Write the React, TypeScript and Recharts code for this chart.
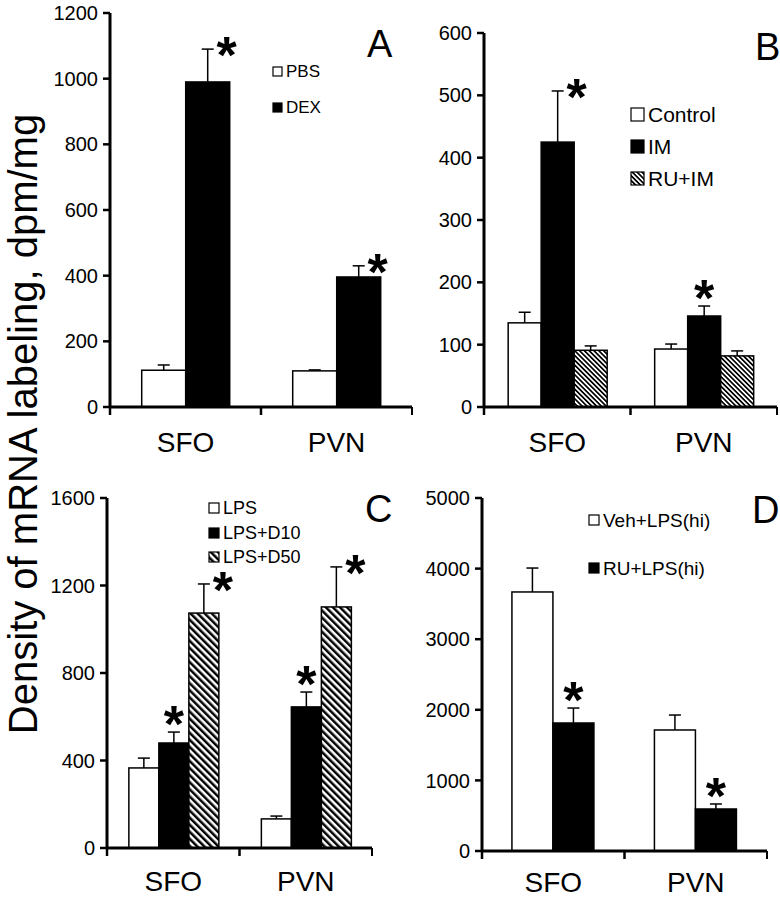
import { BarChart, Bar, XAxis, YAxis, Legend } from 'recharts'

const FONT = "'Liberation Sans', Arial, Helvetica, sans-serif"

const regions = ['SFO', 'PVN']

// panel A
const pbs = [112, 110]
const pbsErr = [16, 3]
const dex = [990, 396]
const dexErr = [100, 34]
const dexSig = [true, true]
const ticksA = [0, 200, 400, 600, 800, 1000, 1200]

// panel B
const control = [135, 93]
const controlErr = [17, 8]
const im = [425, 146]
const imErr = [82, 16]
const imSig = [true, true]
const ruIm = [91, 82]
const ruImErr = [7, 8]
const ticksB = [0, 100, 200, 300, 400, 500, 600]

// panel C
const lps = [366, 133]
const lpsErr = [45, 13]
const lpsD10 = [480, 645]
const lpsD10Err = [50, 68]
const lpsD10Sig = [true, true]
const lpsD50 = [1074, 1102]
const lpsD50Err = [133, 183]
const lpsD50Sig = [true, true]
const ticksC = [0, 400, 800, 1200, 1600]

// panel D
const veh = [3669, 1714]
const vehErr = [339, 212]
const ruLps = [1813, 595]
const ruLpsErr = [212, 71]
const ruLpsSig = [true, true]
const ticksD = [0, 1000, 2000, 3000, 4000, 5000]

type Series = {
  key: string
  label: string
  values: number[]
  errs: number[]
  sig?: boolean[]
  fill: string
  star?: ('top' | 'right')[]
}

type Geo = {
  left: number
  top: number
  width: number
  height: number
  mTop: number
  mRight: number
  yW: number
  xH: number
  labelDy: number
}

type LegendCfg = { left: number; top: number; gap: number; sq: number; fontSize: number }

const barShape = (s: Series) => (p: any) => {
  const { x, y, width, height, payload } = p
  const v = payload[s.key]
  const k = v ? height / v : 0
  const errTop = y - payload[s.key + 'Err'] * k
  const cx = x + width / 2
  const i = regions.indexOf(payload.region)
  const side = s.star ? s.star[i] : 'top'
  const sx = side === 'right' ? cx + 19 : cx
  const sy = side === 'right' ? errTop - 3 : errTop - 17
  return (
    <g>
      <rect x={x} y={y} width={width} height={height} fill={s.fill} stroke="#000" strokeWidth={1.5} />
      <line x1={cx} x2={cx} y1={y} y2={errTop} stroke="#000" strokeWidth={1.5} />
      <line x1={cx - 6} x2={cx + 6} y1={errTop} y2={errTop} stroke="#000" strokeWidth={1.5} />
      {payload[s.key + 'Sig'] && (
        <text x={sx} y={sy + 27} textAnchor="middle" fontSize={52} fontWeight="bold" fontFamily={FONT} fill="#000">
          *
        </text>
      )}
    </g>
  )
}

function Panel({ series, ticks, geo, gap, legend, pattern }: {
  series: Series[]
  ticks: number[]
  geo: Geo
  gap: string
  legend: LegendCfg
  pattern?: { id: string; w: number }
}) {
  const data = regions.map((r, i) => {
    const row: any = { region: r }
    series.forEach((s) => {
      row[s.key] = s.values[i]
      row[s.key + 'Err'] = s.errs[i]
      row[s.key + 'Sig'] = s.sig ? s.sig[i] : false
    })
    return row
  })
  const band = (geo.width - geo.mRight - geo.yW) / regions.length

  const xTick = (p: any) => {
    const { x, y, payload, index } = p
    return (
      <g>
        <line x1={x - band / 2} x2={x - band / 2} y1={y} y2={y + 8} stroke="#000" strokeWidth={2.5} />
        {index === regions.length - 1 && (
          <line x1={x + band / 2} x2={x + band / 2} y1={y} y2={y + 8} stroke="#000" strokeWidth={2} />
        )}
        <text x={x} y={y + geo.labelDy} textAnchor="middle" fontSize={28} fontFamily={FONT} fill="#000">
          {payload.value}
        </text>
      </g>
    )
  }

  const legendContent = () => (
    <div style={{ fontFamily: FONT, fontSize: legend.fontSize, color: '#000' }}>
      {series.map((s) => (
        <div key={s.key} style={{ display: 'flex', alignItems: 'center', height: legend.gap }}>
          <svg width={legend.sq + 2} height={legend.sq + 2} style={{ display: 'block' }}>
            <rect x={1} y={1} width={legend.sq} height={legend.sq} fill={s.fill} stroke="#000" strokeWidth={1.2} />
          </svg>
          <span style={{ marginLeft: 3, lineHeight: 1, whiteSpace: 'nowrap' }}>{s.label}</span>
        </div>
      ))}
    </div>
  )

  return (
    <div style={{ position: 'absolute', left: geo.left, top: geo.top }}>
      <BarChart
        width={geo.width}
        height={geo.height}
        data={data}
        margin={{ top: geo.mTop, right: geo.mRight, bottom: 0, left: 0 }}
        barCategoryGap={gap}
        barGap={0}
      >
        {pattern && (
          <defs>
            <pattern id={pattern.id} width={pattern.w} height={10} patternUnits="userSpaceOnUse" patternTransform="rotate(-45)">
              <rect width={pattern.w} height={10} fill="#fff" />
              <rect width={pattern.w / 2} height={10} fill="#000" />
            </pattern>
          </defs>
        )}
        <XAxis
          dataKey="region"
          height={geo.xH}
          interval={0}
          tickLine={false}
          tickSize={0}
          tickMargin={0}
          tick={xTick}
          axisLine={{ stroke: '#000', strokeWidth: 3 }}
        />
        <YAxis
          width={geo.yW}
          domain={[0, ticks[ticks.length - 1]]}
          ticks={ticks}
          interval={0}
          tickSize={7}
          tickMargin={5}
          tick={{ fill: '#000', fontSize: 20, fontFamily: FONT }}
          tickLine={{ stroke: '#000', strokeWidth: 2.5 }}
          axisLine={{ stroke: '#000', strokeWidth: 3 }}
        />
        <Legend
          layout="horizontal"
          verticalAlign="middle"
          align="center"
          content={legendContent}
          wrapperStyle={{ position: 'absolute', left: legend.left, top: legend.top, width: 'auto' }}
        />
        {series.map((s) => (
          <Bar key={s.key} dataKey={s.key} name={s.label} fill={s.fill} isAnimationActive={false} shape={barShape(s)} />
        ))}
      </BarChart>
    </div>
  )
}

const seriesA: Series[] = [
  { key: 'pbs', label: 'PBS', values: pbs, errs: pbsErr, fill: '#fff' },
  { key: 'dex', label: 'DEX', values: dex, errs: dexErr, sig: dexSig, fill: '#000', star: ['right', 'right'] },
]

const seriesB: Series[] = [
  { key: 'control', label: 'Control', values: control, errs: controlErr, fill: '#fff' },
  { key: 'im', label: 'IM', values: im, errs: imErr, sig: imSig, fill: '#000', star: ['right', 'top'] },
  { key: 'ruIm', label: 'RU+IM', values: ruIm, errs: ruImErr, fill: 'url(#hatchB)' },
]

const seriesC: Series[] = [
  { key: 'lps', label: 'LPS', values: lps, errs: lpsErr, fill: '#fff' },
  { key: 'd10', label: 'LPS+D10', values: lpsD10, errs: lpsD10Err, sig: lpsD10Sig, fill: '#000', star: ['top', 'top'] },
  { key: 'd50', label: 'LPS+D50', values: lpsD50, errs: lpsD50Err, sig: lpsD50Sig, fill: 'url(#hatchC)', star: ['right', 'right'] },
]

const seriesD: Series[] = [
  { key: 'veh', label: 'Veh+LPS(hi)', values: veh, errs: vehErr, fill: '#fff' },
  { key: 'ru', label: 'RU+LPS(hi)', values: ruLps, errs: ruLpsErr, sig: ruLpsSig, fill: '#000', star: ['top', 'top'] },
]

export default function App() {
  return (
    <div style={{ position: 'absolute', left: 0, top: 0, width: 780, height: 900, background: '#fff', overflow: 'hidden' }}>
      <Panel
        series={seriesA}
        ticks={ticksA}
        geo={{ left: 0, top: 0, width: 420, height: 460, mTop: 13, mRight: 8, yW: 110, xH: 53, labelDy: 45 }}
        gap="21%"
        legend={{ left: 272, top: 53, gap: 36, sq: 9, fontSize: 17 }}
      />
      <Panel
        series={seriesB}
        ticks={ticksB}
        geo={{ left: 420, top: 0, width: 360, height: 460, mTop: 33, mRight: 3, yW: 64, xH: 53, labelDy: 45 }}
        gap="16.5%"
        legend={{ left: 210, top: 98, gap: 32, sq: 13, fontSize: 21 }}
        pattern={{ id: 'hatchB', w: 3.4 }}
      />
      <Panel
        series={seriesC}
        ticks={ticksC}
        geo={{ left: 0, top: 460, width: 420, height: 440, mTop: 38, mRight: 48, yW: 107, xH: 52, labelDy: 43 }}
        gap="16.5%"
        legend={{ left: 208, top: 36, gap: 24.5, sq: 10, fontSize: 18 }}
        pattern={{ id: 'hatchC', w: 5 }}
      />
      <Panel
        series={seriesD}
        ticks={ticksD}
        geo={{ left: 420, top: 460, width: 360, height: 440, mTop: 38, mRight: 13, yW: 62, xH: 49, labelDy: 41 }}
        gap="21%"
        legend={{ left: 168, top: 36, gap: 48, sq: 10, fontSize: 19 }}
      />
      <svg width={780} height={900} style={{ position: 'absolute', left: 0, top: 0, pointerEvents: 'none' }}>
        <text transform="translate(37 424) rotate(-90)" textAnchor="middle" fontSize={40} fontFamily={FONT} fill="#000">
          Density of mRNA labeling, dpm/mg
        </text>
        <text x={367} y={57} fontSize={38} fontFamily={FONT} fill="#000">A</text>
        <text x={755} y={60} fontSize={38} fontFamily={FONT} fill="#000">B</text>
        <text x={365} y={522} fontSize={38} fontFamily={FONT} fill="#000">C</text>
        <text x={752} y={523} fontSize={38} fontFamily={FONT} fill="#000">D</text>
      </svg>
    </div>
  )
}
